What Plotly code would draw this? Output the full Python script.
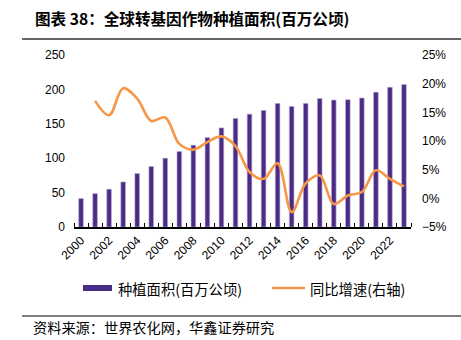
import plotly.graph_objects as go

years = list(range(2000, 2024))
area = [41.3, 48.5, 54.9, 65.5, 77.7, 87.9, 100.0, 109.7, 118.9, 130.0, 144.0, 157.8,
        164.0, 169.4, 179.6, 175.2, 179.6, 186.9, 184.5, 185.0, 187.4, 196.0, 203.0, 207.0]
growth_years = list(range(2001, 2024))
growth = [17.0, 14.5, 19.2, 17.4, 13.5, 14.1, 9.5, 8.5, 9.8, 10.8, 9.1, 4.6,
          3.4, 6.1, -2.4, 2.6, 4.0, -1.0, 0.5, 1.1, 4.9, 3.4, 2.1]
x_labels = [str(y) for y in range(2000, 2024, 2)]

title_text = "图表 38：全球转基因作物种植面积(百万公顷)"
bar_name = "种植面积(百万公顷)"
line_name = "同比增速(右轴)"
source_text = "资料来源：世界农化网，华鑫证券研究"

BAR_COLOR = "#4B2C85"
LINE_COLOR = "#F79646"
CJK = "Noto Sans CJK SC"
LAT = "Liberation Sans, Arial"

fig = go.Figure()
fig.add_trace(go.Bar(x=years, y=area, name=bar_name, marker=dict(color=BAR_COLOR,
                     line=dict(color="#B9A8D8", width=0.6)), width=0.33, showlegend=False))
fig.add_trace(go.Scatter(x=growth_years, y=growth, name=line_name, yaxis="y2", mode="lines",
                         line=dict(color=LINE_COLOR, width=2.6, shape="spline", smoothing=1.0),
                         showlegend=False))

fig.update_layout(
    width=461, height=340,
    margin=dict(l=74, r=50, t=55, b=113),
    paper_bgcolor="white", plot_bgcolor="white",
    font=dict(family=LAT, size=12, color="#000"),
    xaxis=dict(range=[1999.5, 2023.5], tickmode="array", tickvals=list(range(2000, 2024, 2)),
               ticktext=x_labels, tickangle=-45, ticks="", showline=True, linecolor="#000",
               linewidth=1.5, showgrid=False, zeroline=False,
               tickfont=dict(family=LAT, size=12),
               minor=dict(tickmode="linear", tick0=1999.5, dtick=1, ticks="inside",
                          ticklen=4, tickcolor="#000", tickwidth=1, showgrid=False)),
    yaxis=dict(range=[0, 250], dtick=50, showgrid=False, zeroline=False, showline=False,
               ticks="", ticklabelstandoff=8, tickfont=dict(family=LAT, size=12)),
    yaxis2=dict(range=[-5, 25], dtick=5, ticksuffix="%", overlaying="y", side="right",
                showgrid=False, zeroline=False, showline=False, ticks="",
                ticklabelstandoff=10, tickfont=dict(family=LAT, size=12)),
    bargap=0.6,
)

# title and separator lines
fig.add_annotation(text="<b>" + title_text + "</b>", xref="paper", yref="paper",
                   x=(33 - 74) / 337, y=(340 - 113 - 18) / 172, xanchor="left", yanchor="middle",
                   showarrow=False, font=dict(family=CJK, size=15.6, color="#000"))
fig.add_shape(type="line", xref="paper", yref="paper", x0=(22 - 74) / 337, x1=(461 - 74) / 337,
              y0=(227 - 39) / 172, y1=(227 - 39) / 172, line=dict(color="#333", width=1.5))
fig.add_shape(type="line", xref="paper", yref="paper", x0=(22 - 74) / 337, x1=(461 - 74) / 337,
              y0=(227 - 316) / 172, y1=(227 - 316) / 172, line=dict(color="#000", width=1))

# legend (manual)
ly = (227 - 288) / 172
fig.add_shape(type="rect", xref="paper", yref="paper", x0=(83 - 74) / 337, x1=(112 - 74) / 337,
              y0=(227 - 291) / 172, y1=(227 - 285) / 172, fillcolor=BAR_COLOR, line=dict(width=0))
fig.add_annotation(text=bar_name, xref="paper", yref="paper", x=(116 - 74) / 337, y=ly,
                   xanchor="left", yanchor="middle", showarrow=False,
                   font=dict(family=CJK, size=14.3, color="#000"))
fig.add_shape(type="line", xref="paper", yref="paper", x0=(272 - 74) / 337, x1=(305 - 74) / 337,
              y0=ly, y1=ly, line=dict(color=LINE_COLOR, width=2.6))
fig.add_annotation(text=line_name, xref="paper", yref="paper", x=(308 - 74) / 337, y=ly,
                   xanchor="left", yanchor="middle", showarrow=False,
                   font=dict(family=CJK, size=14.3, color="#000"))

# source
fig.add_annotation(text=source_text, xref="paper", yref="paper", x=(31 - 74) / 337,
                   y=(227 - 327) / 172, xanchor="left", yanchor="middle", showarrow=False,
                   font=dict(family=CJK, size=14.2, color="#000"))

fig.write_html("out.html")
